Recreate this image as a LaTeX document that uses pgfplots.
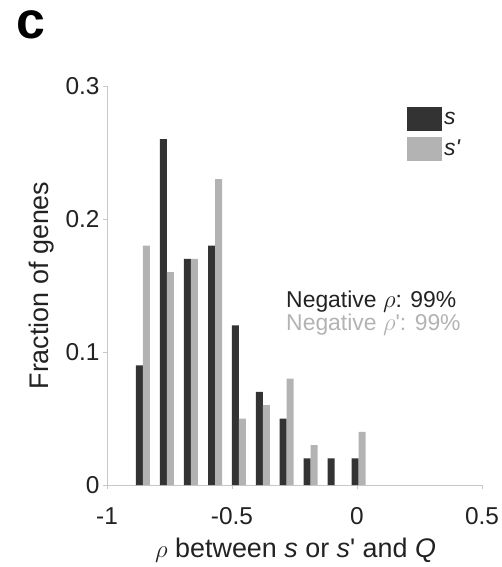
\documentclass[border=0pt]{standalone}
\usepackage{fontspec}
\setmainfont{Liberation Sans}[Ligatures=TeXOff]
\usepackage{pgfplots}
\pgfplotsset{compat=1.18}
\definecolor{darkbar}{HTML}{333333}
\definecolor{lightbar}{HTML}{B3B3B3}
\definecolor{axgray}{HTML}{C8C8C8}
\definecolor{txt}{HTML}{222222}
\begin{document}
\begin{tikzpicture}
\useasboundingbox (-107bp,-82bp) rectangle (395bp,485bp);
\begin{axis}[
  at={(0bp,0bp)}, anchor=south west,
  scale only axis, width=375bp, height=399bp,
  xmin=-1, xmax=0.5, ymin=0, ymax=0.3,
  axis x line*=bottom, axis y line*=left,
  axis line style={draw=axgray, line width=0.8bp},
  xtick={-1,-0.5,0,0.5}, xticklabels={-1,-0.5,0,0.5},
  ytick={0,0.1,0.2,0.3}, yticklabels={0,0.1,0.2,0.3},
  tick align=outside, major tick length=4bp,
  tick style={draw=axgray, line width=0.8bp},
  tick label style={font=\fontsize{24.5}{28}\selectfont, text=txt},
  xticklabel style={anchor=base, yshift=-35bp},
  xlabel={$\rho$ between \textit{s} or \textit{s}' and \textit{Q}},
  ylabel={Fraction of genes},
  label style={font=\fontsize{27}{30}\selectfont, text=txt},
  xlabel style={at={(axis description cs:0.503,0)}, anchor=base, yshift=-72.5bp},
  ylabel style={at={(axis description cs:-0.1547,0.5)}, anchor=base},
  ybar, bar width=0.028,
  legend style={at={(axis cs:0.2,0.2846)}, anchor=north west, draw=none, fill=none,
    inner sep=0pt, row sep=6bp, font=\fontsize{23}{26}\selectfont, text=txt,
    cells={anchor=west, xshift=2bp}},
]
\addplot[fill=darkbar, draw=none, bar shift=-0.014,
  legend image code/.code={\fill[darkbar] (0bp,-12bp) rectangle (35bp,12bp);}]
  coordinates {(-0.856,0.09) (-0.760,0.26) (-0.664,0.17) (-0.568,0.18) (-0.473,0.12)
               (-0.377,0.07) (-0.282,0.05) (-0.186,0.02) (-0.090,0.02) (0.006,0.02)};
\addlegendentry{\textit{s}}
\addplot[fill=lightbar, draw=none, bar shift=0.014,
  legend image code/.code={\fill[lightbar] (0bp,-12bp) rectangle (35bp,12bp);}]
  coordinates {(-0.856,0.18) (-0.760,0.16) (-0.664,0.17) (-0.568,0.23) (-0.473,0.05)
               (-0.377,0.06) (-0.282,0.08) (-0.186,0.03) (-0.090,0) (0.006,0.04)};
\addlegendentry{\textit{s'}}
\node[anchor=base west, font=\fontsize{23}{26}\selectfont, text=txt] at (axis cs:-0.2972,0.1338) {Negative $\rho$: 99\%};
\node[anchor=base west, font=\fontsize{23}{26}\selectfont, text=lightbar] at (axis cs:-0.2972,0.1165) {Negative $\rho$': 99\%};
\end{axis}
\node[inner sep=0pt, font=\fontsize{52}{52}\bfseries\selectfont, text=black] at (-76bp,460bp) {c};
\end{tikzpicture}
\end{document}
